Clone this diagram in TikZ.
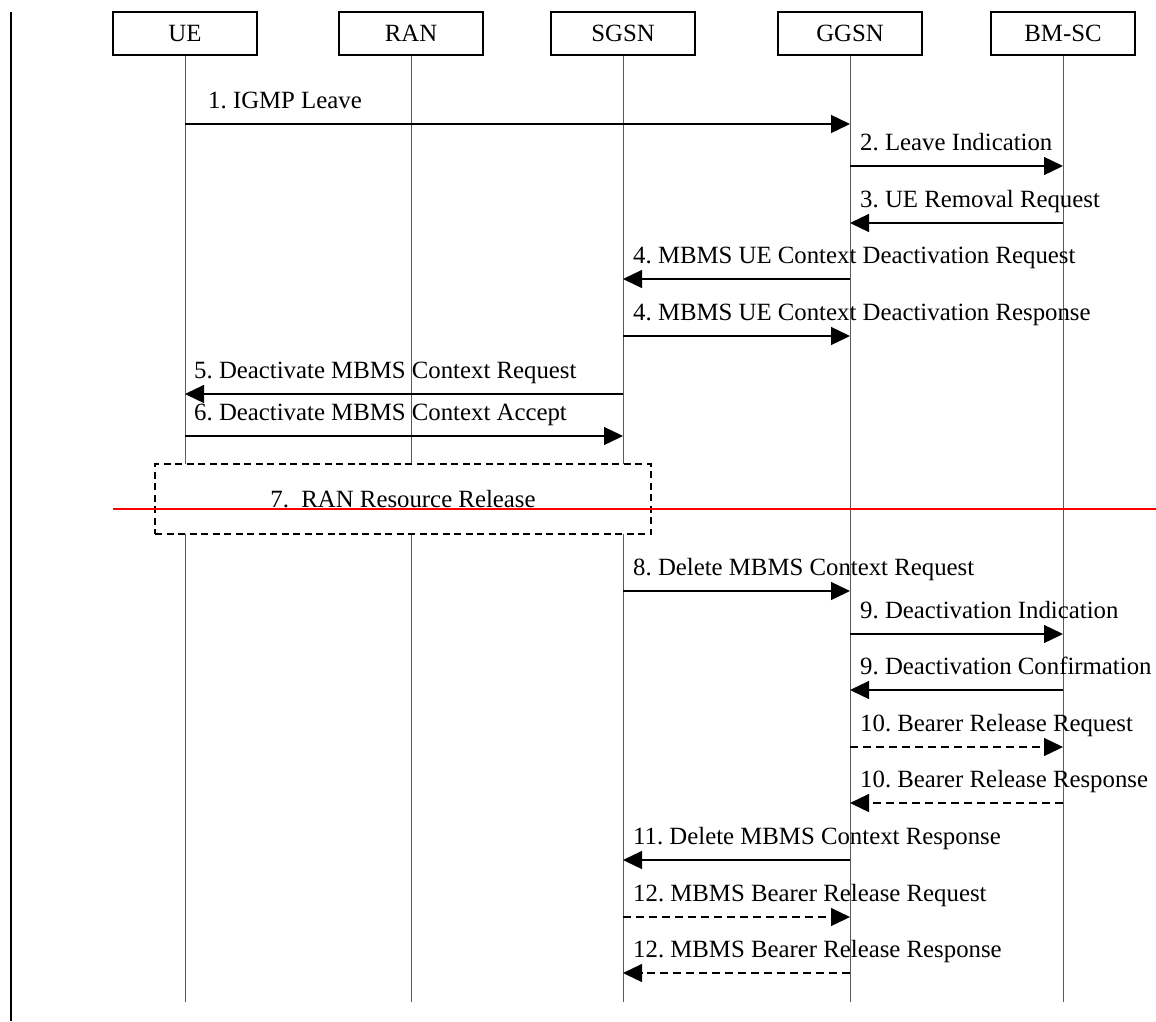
\documentclass[tikz,border=0pt]{standalone}
\usepackage{fontspec}
\setmainfont{Liberation Serif}
\usetikzlibrary{arrows.meta}
\newcommand\seqfont{\fontsize{24.8}{29}\selectfont}
\begin{document}
\frenchspacing
\begin{tikzpicture}[x=1pt,y=-1pt,
  entity/.style={draw, line width=1.1pt, minimum width=144pt, minimum height=43pt,
                 inner sep=0pt, font=\seqfont},
  life/.style={line width=1pt, draw=black!65},
  msg/.style={line width=1.3pt, -{Triangle[length=19pt,width=18pt]}},
  dmsg/.style={msg, dash pattern=on 8pt off 5pt},
  lbl/.style={anchor=base west, inner sep=0pt, font=\seqfont},
  relbox/.style={draw, fill=white, line width=1.3pt, dash pattern=on 7pt off 4.5pt,
                 minimum width=496pt, minimum height=70pt, inner sep=0pt, font=\seqfont},
  marker/.style={draw=red, line width=1.3pt}
]
\useasboundingbox (0,0) rectangle (1156,1021);
\fill[white] (0,0) rectangle (1156,1021);

% margin bar on the left
\coordinate (bar-top) at (11,12);
\coordinate (bar-bot) at (11,1021);
\draw[line width=2pt] (bar-top) -- (bar-bot);

% entities
\node[entity] (ue)   at (185,33.5)  {UE};
\node[entity] (ran)  at (411,33.5)  {RAN};
\node[entity] (sgsn) at (623,33.5)  {SGSN};
\node[entity] (ggsn) at (850,33.5)  {GGSN};
\node[entity] (bmsc) at (1063,33.5) {BM-SC};

% lifelines
\foreach \e in {ue,ran,sgsn,ggsn,bmsc}
  \draw[life] (\e.south) -- (\e.south |- 0,1002);

% messages
\node[lbl] (l1) at (208,108) {1. IGMP Leave};
\draw[msg] (ue.south |- 0,124) -- (ggsn.south |- 0,124);

\node[lbl] (l2) at (860,150) {2. Leave Indication};
\draw[msg] (ggsn.south |- 0,166) -- (bmsc.south |- 0,166);

\node[lbl] (l3) at (860,207) {3. UE Removal Request};
\draw[msg] (bmsc.south |- 0,223) -- (ggsn.south |- 0,223);

\node[lbl] (l4a) at (633,263) {4. MBMS UE Context Deactivation Request};
\draw[msg] (ggsn.south |- 0,279) -- (sgsn.south |- 0,279);

\node[lbl] (l4b) at (633,320) {4. MBMS UE Context Deactivation Response};
\draw[msg] (sgsn.south |- 0,336) -- (ggsn.south |- 0,336);

\node[lbl] (l5) at (194,378) {5. Deactivate MBMS Context Request};
\draw[msg] (sgsn.south |- 0,394) -- (ue.south |- 0,394);

\node[lbl] (l6) at (194,420) {6. Deactivate MBMS Context Accept};
\draw[msg] (ue.south |- 0,436) -- (sgsn.south |- 0,436);

% radio resource release procedure
\node[relbox] (rel) at (403,499) {7.\ \ RAN Resource Release};
\coordinate (mk-a) at (113,509);
\coordinate (mk-b) at (1156,509);
\draw[marker] (mk-a) -- (mk-b);

\node[lbl] (l8) at (633,575) {8. Delete MBMS Context Request};
\draw[msg] (sgsn.south |- 0,591) -- (ggsn.south |- 0,591);

\node[lbl] (l9a) at (860,618) {9. Deactivation Indication};
\draw[msg] (ggsn.south |- 0,634) -- (bmsc.south |- 0,634);

\node[lbl] (l9b) at (860,674) {9. Deactivation Confirmation};
\draw[msg] (bmsc.south |- 0,690) -- (ggsn.south |- 0,690);

\node[lbl] (l10a) at (860,731) {10. Bearer Release Request};
\draw[dmsg] (ggsn.south |- 0,747) -- (bmsc.south |- 0,747);

\node[lbl] (l10b) at (860,787) {10. Bearer Release Response};
\draw[dmsg] (bmsc.south |- 0,803) -- (ggsn.south |- 0,803);

\node[lbl] (l11) at (633,844) {11. Delete MBMS Context Response};
\draw[msg] (ggsn.south |- 0,860) -- (sgsn.south |- 0,860);

\node[lbl] (l12a) at (633,901) {12. MBMS Bearer Release Request};
\draw[dmsg] (sgsn.south |- 0,917) -- (ggsn.south |- 0,917);

\node[lbl] (l12b) at (633,957) {12. MBMS Bearer Release Response};
\draw[dmsg] (ggsn.south |- 0,973) -- (sgsn.south |- 0,973);
\end{tikzpicture}
\end{document}
